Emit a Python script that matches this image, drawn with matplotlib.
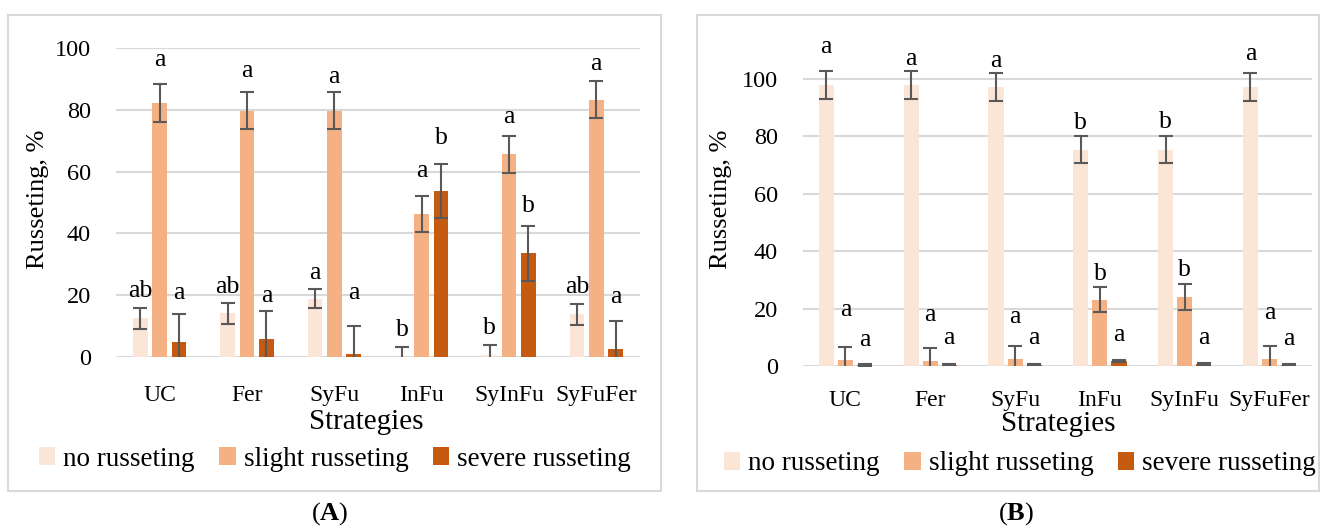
import matplotlib
matplotlib.use("Agg")
import matplotlib.pyplot as plt
import numpy as np
from matplotlib.patches import Rectangle, Patch

plt.rcParams['font.family'] = ['Liberation Serif', 'DejaVu Serif']
plt.rcParams['mathtext.fontset'] = 'custom'
plt.rcParams['mathtext.rm'] = 'Liberation Serif'
plt.rcParams['mathtext.bf'] = 'Liberation Serif:bold'

categories = ["UC", "Fer", "SyFu", "InFu", "SyInFu", "SyFuFer"]
series_names = ["no russeting", "slight russeting", "severe russeting"]

# Panel A values (%)
a_no = [12.5, 14.1, 18.9, 0.0, 0.5, 13.8]
a_slight = [82.2, 79.7, 79.7, 46.2, 65.6, 83.2]
a_severe = [4.8, 5.8, 1.1, 53.7, 33.6, 2.5]
a_no_err = [3.3, 3.3, 3.2, 3.2, 3.3, 3.3]
a_slight_err = [6.0, 5.9, 5.9, 5.9, 6.0, 6.0]
a_severe_err = [9.0, 9.0, 9.0, 8.7, 8.9, 9.0]
a_no_lbl = ["ab", "ab", "a", "b", "b", "ab"]
a_slight_lbl = ["a", "a", "a", "a", "a", "a"]
a_severe_lbl = ["a", "a", "a", "b", "b", "a"]
a_no_lbl_y = [21.3, 22.8, 27.2, 8.6, 9.3, 22.6]
a_slight_lbl_y = [96.1, 92.6, 90.6, 60.3, 77.8, 94.8]
a_severe_lbl_y = [20.7, 19.6, 20.7, 70.9, 48.9, 19.3]

# Panel B values (%)
b_no = [97.9, 97.9, 97.2, 75.3, 75.4, 97.2]
b_slight = [2.0, 1.6, 2.3, 23.1, 23.9, 2.3]
b_severe = [0.3, 0.5, 0.5, 1.8, 0.8, 0.5]
b_no_err = [4.8, 4.8, 4.8, 4.7, 4.8, 4.8]
b_slight_err = [4.6, 4.6, 4.6, 4.3, 4.5, 4.6]
b_severe_err = [0.3, 0.3, 0.3, 0.4, 0.3, 0.3]
b_no_lbl = ["a", "a", "a", "b", "b", "a"]
b_slight_lbl = ["a", "a", "a", "b", "b", "a"]
b_severe_lbl = ["a", "a", "a", "a", "a", "a"]
b_no_lbl_y = [111.0, 106.9, 106.3, 84.6, 84.9, 108.7]
b_slight_lbl_y = [19.6, 17.8, 17.2, 32.2, 33.4, 18.4]
b_severe_lbl_y = [9.0, 9.6, 9.6, 10.8, 9.6, 9.3]

colors = ["#FBE5D6", "#F4B183", "#C55A11"]
grid_c = "#D9D9D9"
err_c = "#595959"

W, H = 1322, 529
fig = plt.figure(figsize=(W / 100, H / 100), dpi=100)


def fx(px):
    return px / W


def fy(py):
    return 1 - py / H


def panel(rect, ylim, vals, errs, lbls, lbl_ys, offset, width):
    ax = fig.add_axes(rect)
    x = np.arange(len(categories))
    for i, (v, e, lb, ly) in enumerate(zip(vals, errs, lbls, lbl_ys)):
        xi = x + (i - 1) * offset
        ax.bar(xi, v, width=width, color=colors[i], zorder=2)
        ax.errorbar(xi, v, yerr=e, fmt='none', ecolor=err_c, elinewidth=1.5,
                    capsize=5, capthick=1.5, zorder=3)
        for xx, t, yy in zip(xi, lb, ly):
            ax.text(xx, yy, t, ha='center', va='center', fontsize=18.5,
                    color='black', clip_on=False, zorder=4)
    ax.set_xlim(-0.5, len(categories) - 0.5)
    ax.set_ylim(*ylim)
    ax.set_yticks([0, 20, 40, 60, 80, 100])
    ax.set_xticks(x)
    ax.set_xticklabels(categories, fontsize=17)
    ax.tick_params(axis='y', labelsize=17.5, length=0, pad=18)
    ax.tick_params(axis='x', length=0, pad=20)
    ax.yaxis.grid(True, color=grid_c, linewidth=1.5, zorder=0)
    ax.set_axisbelow(True)
    for s in ax.spines.values():
        s.set_visible(False)
    ax.set_facecolor('none')
    return ax


# Panel A
axA = panel([fx(116), fy(357), fx(640 - 116), (357 - 48) / H], (0, 100),
            [a_no, a_slight, a_severe], [a_no_err, a_slight_err, a_severe_err],
            [a_no_lbl, a_slight_lbl, a_severe_lbl],
            [a_no_lbl_y, a_slight_lbl_y, a_severe_lbl_y], 0.222, 0.17)
# Panel B
b_top = 79 - 15 * (366 - 79) / 100
axB = panel([fx(803), fy(366), fx(1312 - 803), (366 - b_top) / H], (0, 115),
            [b_no, b_slight, b_severe], [b_no_err, b_slight_err, b_severe_err],
            [b_no_lbl, b_slight_lbl, b_severe_lbl],
            [b_no_lbl_y, b_slight_lbl_y, b_severe_lbl_y], 0.225, 0.177)
axB.tick_params(axis='x', pad=17)

# Axis titles
fig.text(fx(38), fy(199), "Russeting, %", rotation=90, ha='center', va='center', fontsize=19)
fig.text(fx(721), fy(199), "Russeting, %", rotation=90, ha='center', va='center', fontsize=19)
fig.text(fx(366), fy(422), "Strategies", ha='center', va='center', fontsize=21)
fig.text(fx(1058), fy(424), "Strategies", ha='center', va='center', fontsize=21)

# Legends
handles = [Patch(facecolor=c, edgecolor='none') for c in colors]
fig.legend(handles, series_names, loc='center', bbox_to_anchor=(fx(335), fy(459)),
           ncol=3, frameon=False, fontsize=19.5, handlelength=0.6, handleheight=0.6,
           handletextpad=0.3, columnspacing=0.9, borderaxespad=0)
fig.legend(handles, series_names, loc='center', bbox_to_anchor=(fx(1020), fy(464)),
           ncol=3, frameon=False, fontsize=19.5, handlelength=0.6, handleheight=0.6,
           handletextpad=0.3, columnspacing=0.9, borderaxespad=0)

# Panel borders
fig.patches.append(Rectangle((fx(8), fy(491)), fx(661 - 8), (491 - 15) / H,
                             transform=fig.transFigure, fill=False,
                             edgecolor=grid_c, linewidth=1.5))
fig.patches.append(Rectangle((fx(697), fy(491)), fx(1319 - 697), (491 - 15) / H,
                             transform=fig.transFigure, fill=False,
                             edgecolor=grid_c, linewidth=1.5))

# Captions
fig.text(fx(330), fy(514), r"($\mathbf{A}$)", ha='center', va='center', fontsize=19)
fig.text(fx(1016), fy(514), r"($\mathbf{B}$)", ha='center', va='center', fontsize=19)

fig.savefig("out.png", dpi=100, facecolor='white')
